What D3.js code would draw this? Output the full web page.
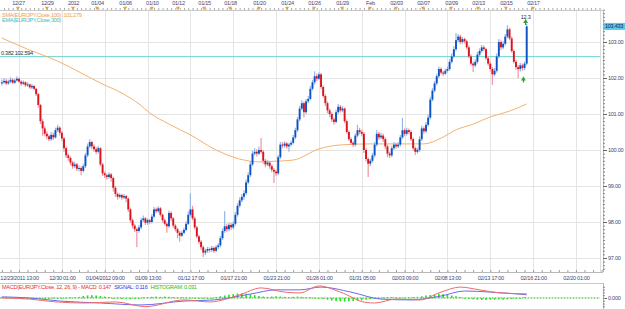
<!DOCTYPE html>
<html>
<head>
<meta charset="utf-8">
<script src="https://cdn.jsdelivr.net/npm/d3@7"></script>
<style>
  html, body { margin: 0; padding: 0; background: #fff; }
  svg { display: block; font-family: "Liberation Sans", Arial, sans-serif; }
  text { font-size: 5.6px; letter-spacing: -0.3px; }
</style>
</head>
<body>
<div id="chart"></div>
<script>
// ---------------- data ----------------
// 4h EUR/JPY candles, index 0 = 12/23/2011
const firstOpen = 101.85;
const closes = [
  101.88,101.92,101.85,101.90,101.95,101.87,101.93,101.98,101.90,101.84,
  101.88,101.80,101.82,101.74,101.78,101.70,101.55,101.25,100.80,100.60,
  100.45,100.38,100.30,100.42,100.35,100.55,100.62,100.48,100.32,100.05,
  99.85,99.78,99.65,99.55,99.60,99.48,99.50,99.42,99.55,99.85,
  100.10,100.22,100.10,100.02,99.95,100.05,99.60,99.35,99.30,99.25,
  99.32,99.22,98.95,98.78,98.70,98.75,98.68,98.72,98.65,98.35,
  98.05,97.90,97.80,97.75,97.85,98.05,98.10,97.98,98.05,98.00,
  98.15,98.35,98.30,98.38,98.20,98.05,97.95,97.88,98.25,98.10,
  97.90,97.80,97.70,97.62,97.70,97.78,97.95,98.20,98.35,98.10,
  97.85,97.60,97.45,97.30,97.15,97.20,97.25,97.22,97.28,97.20,
  97.30,97.35,97.55,97.75,97.88,97.80,97.92,97.85,97.95,98.20,
  98.45,98.60,98.70,98.80,99.10,99.30,99.60,99.90,99.95,99.90,
  100.00,99.95,99.70,99.60,99.65,99.55,99.45,99.40,99.35,99.80,
  100.15,100.12,100.18,100.10,100.15,100.20,100.35,100.55,100.85,101.15,
  101.30,101.05,101.35,101.42,101.70,101.88,102.05,101.98,102.10,101.75,
  101.50,101.30,101.10,101.00,100.85,100.78,101.05,101.20,101.10,101.15,
  100.80,100.50,100.30,100.20,100.15,100.40,100.55,100.50,100.45,100.00,
  99.75,99.62,99.70,99.85,100.15,100.45,100.35,100.40,100.30,100.10,
  99.90,99.85,100.05,100.15,100.10,100.15,100.35,100.55,100.45,100.55,
  100.50,100.30,100.05,99.95,100.00,100.30,100.60,100.52,100.70,100.90,
  101.40,101.65,101.85,102.05,102.25,102.15,102.12,102.20,102.25,102.45,
  102.60,102.80,103.05,103.15,103.00,103.08,103.02,102.85,102.60,102.40,
  102.35,102.45,102.65,102.75,102.85,102.80,102.55,102.40,102.25,102.10,
  102.20,102.60,103.00,102.85,102.95,103.15,103.35,103.10,102.75,102.45,
  102.30,102.25,102.35,102.28,102.40,103.433
];
const highs = [
  101.96,102.00,101.97,101.95,102.02,101.99,101.98,102.05,102.01,101.94,
  101.93,101.91,101.88,101.85,101.83,101.80,101.73,101.58,101.28,100.86,
  100.66,100.52,100.43,100.50,100.48,100.62,100.70,100.66,100.52,100.36,
  100.10,99.90,99.82,99.70,99.68,99.64,99.57,99.55,99.62,99.92,
  100.18,100.30,100.26,100.15,100.08,100.12,100.08,99.64,99.40,99.35,
  99.38,99.36,99.26,99.00,98.82,98.80,98.78,98.78,98.75,98.68,
  98.40,98.10,97.95,97.85,97.92,98.12,98.18,98.14,98.10,98.08,
  98.22,98.42,98.40,98.44,98.42,98.24,98.10,98.00,98.32,98.30,
  98.14,97.94,97.84,97.75,97.76,97.84,98.02,98.30,98.80,98.45,
  98.15,97.90,97.64,97.50,97.35,97.26,97.31,97.30,97.34,97.32,
  97.36,97.42,97.62,97.82,98.30,97.95,97.98,97.97,98.02,98.28,
  98.52,98.68,98.78,98.88,99.18,99.38,99.68,99.98,100.05,100.02,
  100.10,100.33,100.00,99.75,99.72,99.70,99.60,99.50,99.45,99.86,
  100.22,100.22,100.24,100.22,100.20,100.26,100.42,100.62,100.92,101.22,
  101.38,101.35,101.42,101.50,101.78,101.95,102.19,102.12,102.16,102.14,
  101.80,101.55,101.35,101.15,101.05,100.90,101.12,101.28,101.25,101.22,
  101.18,100.85,100.55,100.35,100.25,100.46,100.70,100.62,100.56,100.50,
  100.05,99.80,99.76,99.92,100.22,100.55,100.50,100.48,100.45,100.35,
  100.15,99.95,100.12,100.22,100.20,100.22,100.42,100.89,100.60,100.62,
  100.60,100.55,100.35,100.10,100.06,100.38,100.68,100.65,100.78,100.98,
  101.48,101.72,101.92,102.12,102.32,102.30,102.20,102.26,102.32,102.52,
  102.68,102.88,103.25,103.22,103.20,103.14,103.12,103.06,102.90,102.65,
  102.45,102.52,102.72,102.82,102.92,102.90,102.84,102.60,102.45,102.30,
  102.28,102.68,103.08,103.05,103.02,103.22,103.47,103.40,103.15,102.80,
  102.50,102.36,102.42,102.40,102.46,103.50
];
const lows = [
  101.80,101.84,101.80,101.81,101.86,101.83,101.84,101.90,101.86,101.78,
  101.80,101.75,101.76,101.70,101.69,101.65,101.50,101.18,100.72,100.40,
  100.38,100.30,100.24,100.26,100.28,100.32,100.50,100.40,100.25,99.95,
  99.78,99.70,99.58,99.48,99.50,99.42,99.40,99.30,99.38,99.50,
  99.80,100.05,100.02,99.95,99.88,99.90,99.55,99.28,99.22,99.18,
  99.20,99.12,98.85,98.70,98.62,98.65,98.62,98.64,98.55,98.28,
  97.98,97.82,97.72,97.30,97.70,97.80,98.00,97.92,97.92,97.94,
  97.96,98.10,98.24,98.26,98.15,97.98,97.90,97.70,97.84,98.02,
  97.84,97.74,97.55,97.45,97.58,97.66,97.74,97.92,98.15,98.05,
  97.80,97.55,97.38,97.22,97.03,97.08,97.14,97.15,97.17,97.14,
  97.16,97.25,97.30,97.50,97.70,97.72,97.74,97.78,97.80,97.90,
  98.15,98.40,98.55,98.62,98.75,99.05,99.25,99.55,99.85,99.82,
  99.86,99.90,99.62,99.52,99.55,99.48,99.38,99.08,99.28,99.30,
  99.75,100.05,100.06,100.04,99.95,100.10,100.15,100.30,100.50,100.80,
  101.10,100.90,101.00,101.30,101.38,101.65,101.82,101.92,101.94,101.70,
  101.45,101.22,101.02,100.92,100.78,100.70,100.74,101.00,101.04,101.05,
  100.75,100.45,100.25,100.14,100.08,100.10,100.35,100.44,100.38,99.92,
  99.68,99.25,99.55,99.65,99.80,100.10,100.28,100.30,100.22,100.02,
  99.80,99.78,99.80,100.00,100.04,100.05,100.10,100.30,100.38,100.40,
  100.44,100.25,99.98,99.86,99.90,99.95,100.25,100.45,100.48,100.65,
  100.85,101.35,101.60,101.80,102.00,102.10,102.05,102.08,102.15,102.20,
  102.40,102.55,102.75,103.00,102.94,102.95,102.96,102.80,102.54,102.34,
  102.17,102.30,102.40,102.60,102.70,102.74,102.50,102.34,102.18,101.81,
  102.05,102.15,102.55,102.78,102.80,102.90,103.10,103.05,102.70,102.40,
  102.22,102.00,102.18,102.20,102.22,102.35
];

// SMA(100) at some candles
const smaIdx = [0,12,26,36,46,56,64,69,78,88,100,111,120,128,136,148,158,172,185,197,205,212,220,228,237,245];
const smaVal = [103.11,102.80,102.47,102.17,101.86,101.58,101.28,101.03,100.72,100.42,100.00,99.75,99.67,99.69,99.72,100.03,100.14,100.17,100.17,100.17,100.33,100.56,100.72,100.92,101.08,101.28];

const fibLevel = 102.594;
const lastPrice = 103.433;

// MACD panel
const macdIdx = [0,13,25,39,53,67,85,97,111,121,132,139,148,158,170,174,184,195,205,214,223,233,245];
const macdVal = [0.00,-0.04,-0.14,-0.18,-0.14,-0.31,-0.07,-0.14,0.11,0.36,0.21,0.18,0.43,0.21,-0.16,-0.18,-0.04,-0.07,0.21,0.39,0.29,0.18,0.147];
const signalIdx = [0,13,27,46,65,85,99,116,128,139,149,163,177,191,205,216,228,245];
const signalVal = [0.04,0.00,-0.11,-0.18,-0.25,-0.11,-0.07,0.14,0.29,0.29,0.39,0.21,-0.04,-0.07,0.07,0.25,0.21,0.116];
// histogram, one value every 2 candles
const histVal = [
  0.03,0.04,0.02,0.03,0.01,0.00,-0.02,-0.03,-0.02,-0.01,0.00,-0.01,0.01,0.00,-0.01,0.01,0.02,0.02,
  0.04,0.07,0.09,0.10,0.09,0.07,0.05,0.03,
  -0.01,-0.03,-0.04,-0.03,-0.04,-0.02,-0.01,
  0.02,0.03,0.04,0.05,0.04,0.05,0.04,0.03,0.02,0.03,
  0.02,0.01,-0.01,-0.02,-0.03,-0.02,
  0.00,0.03,0.06,0.09,0.12,0.14,0.16,0.17,0.15,0.13,0.10,0.07,0.05,
  0.04,0.05,0.06,0.05,0.04,0.03,0.04,0.05,
  0.04,0.03,0.02,0.01,0.00,
  -0.03,-0.06,-0.09,-0.11,-0.12,-0.13,-0.12,-0.11,-0.10,-0.08,-0.06,-0.04,-0.02,
  0.01,0.02,0.03,0.03,0.02,0.01,0.01,0.02,0.03,0.04,
  0.06,0.09,0.11,0.13,0.15,0.14,0.12,0.09,0.06,0.03,
  -0.01,-0.03,-0.05,-0.06,-0.07,-0.07,-0.06,-0.06,-0.05,-0.06,-0.05,-0.04,-0.03,
  0.00,0.03
];

// axes
const yTicks = [97, 98, 99, 100, 101, 102, 103];
const topLabels = ["12/27","12/29","2012","01/04","01/06","01/10","01/12","01/15","01/18","01/20",
                   "01/24","01/26","01/29","Feb","02/03","02/07","02/09","02/13","02/15","02/17"];
const topIdx = [7.5,21,33.2,44.4,57.5,70,82.2,94.4,106.5,120,133.1,145.7,158.8,171.8,184,196.6,209.7,222.3,235.3,247.9];
const bottomLabels = ["12/23/2011 13:00","12/30 01:00","01/04/2012 09:00","01/09 13:00","01/12 17:00",
                      "01/17 21:00","01/23 21:00","01/26 01:00","01/31 05:00","02/03 09:00",
                      "02/08 13:00","02/13 17:00","02/16 21:00","02/20 01:00"];
const bottomIdx = [8,28,48,68,88,108,128,148,168,188,208,228,248,268];

// ---------------- chart ----------------
const W = 625, H = 309;
const plotTop = 11, plotBottom = 272, plotRight = 600, axisX = 603;
const macdTop = 283;

const svg = d3.select("#chart").append("svg")
    .attr("width", W).attr("height", H);

const x = d3.scaleLinear().domain([0, 280]).range([1.9, 1.9 + 280 * 2.142]);
const y = d3.scaleLinear().domain([97, 103]).range([258, 42]);
const ym = d3.scaleLinear().domain([-0.43, 0.5]).range([310, 284]);

const axisColor = "#3d4b7d";

// grid
svg.append("g").selectAll("line").data(yTicks).join("line")
    .attr("x1", 0).attr("x2", plotRight)
    .attr("y1", d => Math.round(y(d)) + 0.5).attr("y2", d => Math.round(y(d)) + 0.5)
    .attr("stroke", "#e4e4e4");
svg.append("g").selectAll("line").data(bottomIdx).join("line")
    .attr("x1", d => Math.round(x(d)) + 0.5).attr("x2", d => Math.round(x(d)) + 0.5)
    .attr("y1", plotTop).attr("y2", plotBottom)
    .attr("stroke", "#e4e4e4");

// fib level
svg.append("line")
    .attr("x1", 0).attr("x2", plotRight)
    .attr("y1", y(fibLevel)).attr("y2", y(fibLevel))
    .attr("stroke", "#6fd4d4").attr("stroke-width", 1);

// SMA
svg.append("path")
    .datum(smaIdx.map((d, k) => [d, smaVal[k]]))
    .attr("fill", "none").attr("stroke", "#f7b070").attr("stroke-width", 1)
    .attr("d", d3.line().x(d => x(d[0])).y(d => y(d[1])).curve(d3.curveMonotoneX));

// candles
const candles = closes.map((c, i) => ({
    i, o: i === 0 ? firstOpen : closes[i - 1], h: highs[i], l: lows[i], c
}));
const cg = svg.append("g");
cg.selectAll("line").data(candles).join("line")
    .attr("x1", d => x(d.i)).attr("x2", d => x(d.i))
    .attr("y1", d => y(d.h)).attr("y2", d => y(d.l))
    .attr("stroke", d => d.c >= d.o ? "#8fb8e8" : "#f0959f")
    .attr("stroke-width", 1.2);
cg.selectAll("rect").data(candles).join("rect")
    .attr("x", d => x(d.i) - 0.95)
    .attr("width", 1.9)
    .attr("y", d => y(Math.max(d.o, d.c)))
    .attr("height", d => Math.max(1, Math.abs(y(d.o) - y(d.c))))
    .attr("fill", d => d.c >= d.o ? "#0d52c4" : "#d8141c");

// top ruler
const topAxis = svg.append("g").attr("transform", `translate(0,${plotTop - 1})`);
topAxis.call(d3.axisTop(x).tickValues(d3.range(1, 281, 2)).tickSize(2).tickFormat(""));
topAxis.select(".domain").remove();
topAxis.selectAll("line").attr("stroke", "#aaa");
svg.append("line").attr("x1", 0).attr("x2", axisX)
    .attr("y1", plotTop - 0.5).attr("y2", plotTop - 0.5).attr("stroke", "#c8c8c8");
const topLab = svg.append("g").attr("transform", `translate(0,${plotTop - 1})`);
topLab.call(d3.axisTop(x).tickValues(topIdx).tickSize(0).tickPadding(5)
    .tickFormat((d, k) => topLabels[k]));
topLab.select(".domain").remove();
topLab.selectAll("text").attr("fill", axisColor).attr("font-family", null).attr("font-size", null);
svg.append("g").selectAll("path").data(topIdx).join("path")
    .attr("d", d3.symbol(d3.symbolTriangle, 7))
    .attr("transform", d => `translate(${x(d)},${plotTop - 3}) rotate(180)`)
    .attr("fill", "#f0a030");

// right price axis
svg.append("line").attr("x1", axisX + 0.5).attr("x2", axisX + 0.5)
    .attr("y1", plotTop).attr("y2", plotBottom).attr("stroke", "#b8b8b8");
svg.append("line").attr("x1", plotRight + 0.5).attr("x2", plotRight + 0.5)
    .attr("y1", plotTop).attr("y2", plotBottom).attr("stroke", "#dcdcdc");
const rMinor = svg.append("g").attr("transform", `translate(${axisX},0)`);
rMinor.call(d3.axisRight(y).tickValues(d3.range(96.7, 104.0, 0.1)).tickSize(2).tickFormat(""));
rMinor.select(".domain").remove();
rMinor.selectAll("line").attr("stroke", "#888");
const rAxis = svg.append("g").attr("transform", `translate(${axisX},0)`);
rAxis.call(d3.axisRight(y).tickValues(yTicks).tickSize(4).tickPadding(1).tickFormat(d3.format(".2f")));
rAxis.select(".domain").remove();
rAxis.selectAll("line").attr("stroke", "#666");
rAxis.selectAll("text").attr("fill", axisColor).attr("font-family", null).attr("font-size", null);

// last price tag
svg.append("rect").attr("x", axisX + 1).attr("y", y(lastPrice) - 3.5)
    .attr("width", W - axisX - 1).attr("height", 7).attr("fill", "#5cc6ec");
svg.append("text").attr("x", axisX + 2).attr("y", y(lastPrice) + 2)
    .attr("fill", "#1b2a55").text(d3.format(".3f")(lastPrice));

// bottom time axis
svg.append("line").attr("x1", 0).attr("x2", axisX)
    .attr("y1", plotBottom + 0.5).attr("y2", plotBottom + 0.5).attr("stroke", "#b8b8b8");
const bMinor = svg.append("g").attr("transform", `translate(0,${plotBottom})`);
bMinor.call(d3.axisTop(x).tickValues(d3.range(0, 281, 4)).tickSize(2).tickFormat(""));
bMinor.select(".domain").remove();
bMinor.selectAll("line").attr("stroke", "#999");
const bAxis = svg.append("g").attr("transform", `translate(0,${plotBottom})`);
bAxis.call(d3.axisBottom(x).tickValues(bottomIdx).tickSize(0).tickPadding(4)
    .tickFormat((d, k) => bottomLabels[k]));
bAxis.select(".domain").remove();
bAxis.selectAll("text").attr("fill", axisColor).attr("font-family", null).attr("font-size", null);

// legends / labels in main panel
svg.append("text").attr("x", 2).attr("y", 16.5).attr("fill", "#f29a4a")
    .text("SMA(EUR/JPY.Close,100): 101.279");
svg.append("text").attr("x", 2).attr("y", 22).attr("fill", "#3cbcbc")
    .text("EMA(EUR/JPY.Close,300)");
svg.append("text").attr("x", 1).attr("y", y(fibLevel) - 2).attr("fill", "#333")
    .text("0.382 102.594");

// signal markers near last candles
svg.append("text").attr("x", x(244.5)).attr("y", 18.5).attr("text-anchor", "middle")
    .attr("fill", "#333").text("12.3");
svg.append("path").attr("d", d3.symbol(d3.symbolTriangle, 10))
    .attr("transform", `translate(${x(244.5)},21.5)`).attr("fill", "#2fa52f");
svg.append("rect").attr("x", x(244.5) - 0.6).attr("y", 22).attr("width", 1.2).attr("height", 3)
    .attr("fill", "#2fa52f");
svg.append("path").attr("d", d3.symbol(d3.symbolTriangle, 10))
    .attr("transform", `translate(${x(243.5)},${y(lows[241]) + 1}) `).attr("fill", "#2fa52f");
svg.append("rect").attr("x", x(243.5) - 0.6).attr("y", y(lows[241]) + 1.5).attr("width", 1.2).attr("height", 3)
    .attr("fill", "#2fa52f");

// ---------------- MACD panel ----------------
svg.append("line").attr("x1", 0).attr("x2", axisX)
    .attr("y1", macdTop + 0.5).attr("y2", macdTop + 0.5).attr("stroke", "#c8c8c8");
svg.append("line").attr("x1", axisX + 0.5).attr("x2", axisX + 0.5)
    .attr("y1", macdTop).attr("y2", H).attr("stroke", "#b8b8b8");
svg.append("line").attr("x1", 0).attr("x2", plotRight)
    .attr("y1", ym(0)).attr("y2", ym(0)).attr("stroke", "#bff0b8").attr("stroke-width", 1.5);
svg.append("line").attr("x1", 0).attr("x2", plotRight)
    .attr("y1", ym(0)).attr("y2", ym(0)).attr("stroke", "#999")
    .attr("stroke-dasharray", "1,2");

svg.append("g").selectAll("rect").data(histVal).join("rect")
    .attr("x", (d, k) => x(2 * k) - 0.8).attr("width", 1.6)
    .attr("y", d => ym(Math.max(0, d)))
    .attr("height", d => Math.max(0.8, Math.abs(ym(d) - ym(0))))
    .attr("fill", "#1ee01e");

const mline = d3.line().x(d => x(d[0])).y(d => ym(d[1])).curve(d3.curveMonotoneX);
svg.append("path").datum(signalIdx.map((d, k) => [d, signalVal[k]]))
    .attr("fill", "none").attr("stroke", "#6a6af0").attr("stroke-width", 1).attr("d", mline);
svg.append("path").datum(macdIdx.map((d, k) => [d, macdVal[k]]))
    .attr("fill", "none").attr("stroke", "#f26a6a").attr("stroke-width", 1).attr("d", mline);

const mAxis = svg.append("g").attr("transform", `translate(${axisX},0)`);
mAxis.call(d3.axisRight(ym).tickValues([0]).tickSize(4).tickPadding(1).tickFormat(d3.format(".3f")));
mAxis.select(".domain").remove();
mAxis.selectAll("line").attr("stroke", "#666");
mAxis.selectAll("text").attr("fill", axisColor).attr("font-family", null).attr("font-size", null);
const mMinor = svg.append("g").attr("transform", `translate(${axisX},0)`);
mMinor.call(d3.axisRight(ym).tickValues(d3.range(-0.4, 0.5, 0.1)).tickSize(2).tickFormat(""));
mMinor.select(".domain").remove();
mMinor.selectAll("line").attr("stroke", "#888");

const leg = svg.append("text").attr("x", 2).attr("y", macdTop + 5.5);
leg.append("tspan").attr("fill", "#e83030").text("MACD(EUR/JPY.Close, 12, 26, 9) - MACD: 0.147");
leg.append("tspan").attr("fill", "#3434e0").attr("dx", 3).text("SIGNAL: 0.116");
leg.append("tspan").attr("fill", "#16c016").attr("dx", 3).text("HISTOGRAM: 0.031");
</script>
</body>
</html>
